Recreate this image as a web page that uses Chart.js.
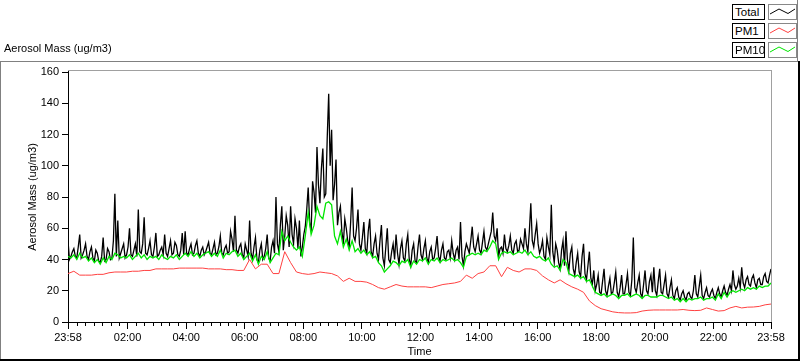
<!DOCTYPE html>
<html>
<head>
<meta charset="utf-8">
<script src="https://cdn.jsdelivr.net/npm/chart.js@4/dist/chart.umd.min.js"></script>
<style>
  body { margin: 0; background: #fff; font-family: 'Liberation Sans', Arial, sans-serif; font-size: 11px; color: #000; }
  #wrap { position: relative; width: 800px; height: 361px; overflow: hidden; }
  #chart { position: absolute; left: 0; top: 0; }
  .title { position: absolute; left: 4px; top: 41px; line-height: 14px; }
  .lg-label { position: absolute; left: 732px; width: 29px; height: 14px; border: 1px solid #000; line-height: 14px; padding-left: 2px; background: #fff; font-size: 11.5px; }
  .lg-sample { position: absolute; left: 768px; width: 27px; height: 14px; border: 1px solid #888; background: #fff; }
  .lg-sample svg { display: block; }
</style>
</head>
<body>
<div id="wrap">
  <canvas id="chart" width="800" height="361"></canvas>
  <div class="title">Aerosol Mass (ug/m3)</div>
  <div class="lg-label" style="top:4px">Total</div>
  <div class="lg-sample" style="top:4px"><svg width="27" height="14"><polyline points="1,9 10,4 19,8.5 26,4" stroke="#000" fill="none"/></svg></div>
  <div class="lg-label" style="top:23px">PM1</div>
  <div class="lg-sample" style="top:23px"><svg width="27" height="14"><polyline points="1,9 10,4 19,8.5 26,4" stroke="#ff4040" fill="none"/></svg></div>
  <div class="lg-label" style="top:42px">PM10</div>
  <div class="lg-sample" style="top:42px"><svg width="27" height="14"><polyline points="1,9 10,4 19,8.5 26,4" stroke="#00e600" fill="none"/></svg></div>
</div>
<script>
// minutes after 23:58: Total every 3 min, PM10 every 6 min, PM1 every 12 min
const totalStep = 3;
const pm10Step = 6;
const pm1Step = 12;

const tickMinutes = [0, 122, 242, 362, 482, 602, 722, 842, 962, 1082, 1202, 1322, 1440];
const tickLabels = ['23:58', '02:00', '04:00', '06:00', '08:00', '10:00', '12:00', '14:00', '16:00', '18:00', '20:00', '22:00', '23:58'];

const totalMass = [
  52, 40, 42, 45, 47, 42, 41, 48, 56, 41, 43, 46, 50, 42, 40, 45, 48, 41, 39, 46,
  44, 39, 38, 42, 54, 39, 40, 47, 45, 40, 41, 52, 82, 42, 65, 41, 44, 47, 50, 41,
  43, 48, 60, 43, 42, 46, 50, 42, 72, 45, 44, 50, 67, 44, 43, 47, 52, 43, 42, 48,
  57, 42, 43, 46, 48, 43, 56, 44, 42, 47, 52, 43, 44, 51, 49, 43, 42, 46, 57, 43,
  58, 44, 43, 47, 50, 43, 44, 49, 52, 44, 42, 46, 48, 43, 45, 48, 51, 44, 43, 47,
  51, 43, 44, 48, 55, 44, 43, 47, 49, 44, 45, 58, 53, 45, 68, 46, 44, 48, 50, 43,
  41, 50, 46, 42, 65, 44, 40, 48, 54, 40, 38, 46, 50, 40, 42, 47, 56, 41, 39, 48,
  52, 44, 80, 50, 45, 62, 74, 46, 55, 68, 62, 48, 74, 56, 50, 66, 60, 47, 65, 42,
  48, 56, 61, 72, 86, 64, 58, 90, 83, 70, 112, 88, 76, 98, 111, 80, 82, 118, 146, 100,
  123, 78, 88, 104, 62, 70, 74, 58, 50, 66, 60, 52, 48, 64, 86, 55, 52, 60, 72, 50,
  46, 54, 64, 47, 44, 58, 66, 45, 42, 50, 55, 44, 40, 52, 62, 41, 36, 48, 60, 40,
  38, 45, 50, 40, 56, 44, 37, 47, 52, 41, 39, 50, 56, 40, 36, 46, 50, 39, 38, 48,
  56, 43, 40, 47, 52, 41, 38, 45, 48, 40, 41, 47, 55, 42, 39, 46, 50, 41, 40, 45,
  46, 41, 52, 44, 40, 46, 48, 40, 64, 42, 36, 45, 50, 47, 44, 52, 61, 48, 45, 50,
  55, 46, 44, 51, 58, 48, 46, 50, 54, 58, 70, 55, 52, 60, 42, 47, 48, 44, 56, 47,
  45, 49, 55, 46, 44, 50, 52, 45, 46, 53, 50, 47, 60, 50, 45, 58, 76, 52, 48, 56,
  63, 50, 44, 47, 52, 42, 40, 54, 48, 43, 75, 45, 38, 50, 46, 38, 34, 46, 52, 36,
  58, 40, 33, 44, 48, 34, 30, 38, 44, 32, 29, 42, 50, 31, 27, 36, 45, 28, 24, 33,
  20, 24, 30, 19, 18, 26, 34, 20, 17, 23, 28, 18, 19, 25, 32, 19, 16, 22, 30, 18,
  18, 24, 31, 19, 17, 27, 54, 22, 19, 25, 30, 18, 16, 24, 33, 20, 18, 26, 30, 19,
  35, 20, 17, 26, 34, 19, 18, 24, 30, 18, 16, 22, 27, 17, 15, 20, 22, 16, 14, 18,
  20, 16, 14, 18, 19, 16, 15, 20, 30, 18, 16, 23, 30, 17, 15, 19, 22, 17, 16, 19,
  21, 17, 15, 19, 22, 18, 16, 20, 23, 19, 17, 21, 24, 20, 33, 24, 21, 23, 28, 22,
  35, 25, 22, 27, 29, 24, 23, 28, 30, 25, 22, 27, 28, 24, 24, 29, 31, 26, 25, 30,
  34
];

const pm10Mass = [
  42, 41, 43, 40, 44, 41, 42, 39, 41, 38,
  40, 37, 41, 38, 42, 40, 44, 43, 41, 42,
  41, 43, 40, 42, 44, 41, 43, 40, 42, 41,
  42, 40, 43, 41, 40, 42, 41, 43, 40, 42,
  44, 42, 45, 42, 44, 41, 43, 44, 45, 42,
  44, 42, 46, 41, 44, 43, 45, 46, 42, 44,
  40, 42, 44, 39, 43, 37, 42, 40, 45, 38,
  41, 44, 43, 58, 52, 55, 51, 48, 46, 48,
  42, 55, 70, 56, 62, 74, 68, 66, 76, 77,
  75, 55, 50, 58, 48, 53, 46, 52, 45, 47,
  44, 46, 43, 45, 41, 42, 38, 36, 32, 34,
  36, 39, 38, 36, 39, 38, 40, 35, 39, 37,
  40, 39, 41, 37, 40, 39, 41, 38, 40, 39,
  40, 41, 39, 40, 38, 35, 42, 43, 44, 43,
  44, 43, 46, 45, 48, 52, 50, 40, 44, 45,
  44, 45, 43, 44, 45, 44, 46, 43, 45, 42,
  41, 42, 40, 39, 41, 37, 35, 36, 33, 40,
  38, 31, 30, 29, 30, 28, 29, 26, 27, 23,
  19, 18, 17, 18, 16, 17, 18, 17, 15, 17,
  17, 18, 16, 17, 18, 17, 15, 17, 17, 16,
  16, 16, 17, 17, 16, 15, 16, 14, 15, 13,
  15, 13, 15, 14, 15, 15, 16, 14, 15, 15,
  16, 14, 18, 15, 19, 16, 19, 20, 19, 20,
  21, 20, 22, 21, 22, 21, 23, 22, 23, 23, 25
];

const pm1Mass = [
  31, 32.5, 30, 30, 30, 30.5, 30.5, 31.5, 32, 32,
  32, 32.5, 32.5, 33, 33, 34, 34, 34, 34, 34.5,
  34.5, 34.5, 34.5, 34.5, 34, 34, 34, 33.5, 33.5, 33,
  33, 40, 34, 37, 37, 31, 31, 45, 38, 32,
  31, 30.5, 31, 32, 31.5, 31, 29.5, 26, 28, 26,
  26, 25.5, 24, 22, 21, 22.5, 24, 23, 22.5, 22.5,
  22.5, 22.5, 22, 23, 24, 24.5, 25, 26, 30, 28,
  31, 32, 36, 36, 29, 35, 33, 32, 34, 34,
  33, 29.5, 27, 25, 27, 24.5, 22.5, 21, 19, 13.5,
  10.5, 8.5, 7.5, 6.5, 6, 5.8, 5.8, 6, 7, 7.5,
  7.7, 7.7, 7.7, 7.7, 7.7, 8, 7.5, 7.3, 7.5, 9,
  8, 7, 7.3, 9, 10, 9, 9.5, 9.6, 10, 11, 11.5
];

Chart.defaults.font.family = "'Liberation Sans', Arial, sans-serif";
Chart.defaults.font.size = 11;
Chart.defaults.color = '#000';

// LabVIEW style frame, plot box and minor ticks on the time axis
const framePlugin = {
  id: 'frame',
  afterDraw(chart) {
    const ctx = chart.ctx;
    const a = chart.chartArea;
    const xs = chart.scales.x;
    ctx.save();
    ctx.lineWidth = 1;
    ctx.strokeStyle = '#000';
    ctx.beginPath();
    for (let k = 0; k < tickMinutes.length - 1; k++) {
      const t0 = tickMinutes[k], t1 = tickMinutes[k + 1];
      for (let m = 1; m < 7; m++) {
        const px = Math.round(xs.getPixelForValue(t0 + (t1 - t0) * m / 7)) + 0.5;
        ctx.moveTo(px, a.bottom);
        ctx.lineTo(px, a.bottom + 4);
      }
    }
    ctx.moveTo(a.left + 0.5, a.top - 2);
    ctx.lineTo(a.left + 0.5, a.top + 1);
    ctx.stroke();

    ctx.strokeStyle = '#a0a0a0';
    ctx.beginPath();
    ctx.moveTo(a.left, a.top - 1.5);
    ctx.lineTo(a.right + 1, a.top - 1.5);
    ctx.moveTo(a.right + 0.5, a.top - 2);
    ctx.lineTo(a.right + 0.5, a.bottom);
    ctx.stroke();

    ctx.strokeStyle = '#808080';
    ctx.beginPath();
    ctx.moveTo(0, 61.5);
    ctx.lineTo(798, 61.5);
    ctx.moveTo(0.5, 61);
    ctx.lineTo(0.5, 360);
    ctx.moveTo(797.5, 0);
    ctx.lineTo(797.5, 61);
    ctx.stroke();

    ctx.strokeStyle = '#000';
    ctx.lineWidth = 2;
    ctx.beginPath();
    ctx.moveTo(0, 360);
    ctx.lineTo(800, 360);
    ctx.moveTo(799, 61);
    ctx.lineTo(799, 361);
    ctx.stroke();
    ctx.restore();
  }
};

new Chart(document.getElementById('chart'), {
  type: 'line',
  data: {
    datasets: [
      {
        label: 'Total',
        data: totalMass.map((v, i) => ({ x: i * totalStep, y: v })),
        borderColor: '#000',
        borderWidth: 1.3,
        order: 3
      },
      {
        label: 'PM1',
        data: pm1Mass.map((v, i) => ({ x: i * pm1Step, y: v })),
        borderColor: '#ff4040',
        order: 2
      },
      {
        label: 'PM10',
        data: pm10Mass.map((v, i) => ({ x: i * pm10Step, y: v })),
        borderColor: '#00e600',
        borderWidth: 1.3,
        order: 1
      }
    ]
  },
  options: {
    responsive: false,
    animation: false,
    devicePixelRatio: 1,
    layout: { padding: { left: 0, top: 72, right: 29, bottom: 0 } },
    elements: {
      line: { borderWidth: 1, tension: 0 },
      point: { radius: 0 }
    },
    plugins: {
      legend: { display: false },
      tooltip: { enabled: false }
    },
    scales: {
      x: {
        type: 'linear',
        min: 0,
        max: 1440,
        afterBuildTicks: s => { s.ticks = tickMinutes.map(v => ({ value: v })); },
        afterFit: s => { s.height = 39; },
        ticks: {
          autoSkip: false,
          maxRotation: 0,
          padding: 2,
          callback: v => tickLabels[tickMinutes.indexOf(v)]
        },
        grid: { drawOnChartArea: false, drawTicks: true, tickLength: 7, color: '#000' },
        border: { color: '#000' },
        title: { display: true, text: 'Time', padding: { top: 0, bottom: 2 } }
      },
      y: {
        min: 0,
        max: 160,
        afterFit: s => { s.width = 68; },
        ticks: { stepSize: 20, padding: 3 },
        grid: { drawOnChartArea: false, drawTicks: true, tickLength: 6, color: '#000' },
        border: { color: '#000' },
        title: { display: true, text: 'Aerosol Mass (ug/m3)', padding: { top: 26, bottom: 0 } }
      }
    }
  },
  plugins: [framePlugin]
});
</script>
</body>
</html>
